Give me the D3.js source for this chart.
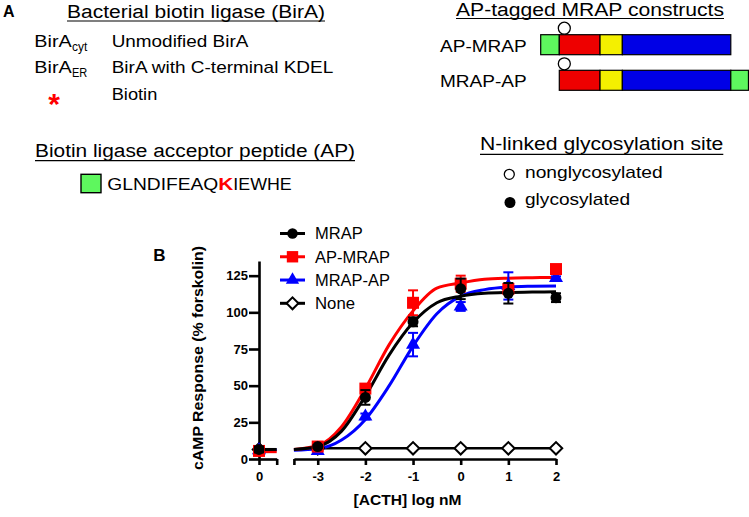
<!DOCTYPE html>
<html>
<head>
<meta charset="utf-8">
<script src="https://cdn.jsdelivr.net/npm/d3@7"></script>
<style>
  body { margin: 0; background: #fff; }
  svg { display: block; font-family: "Liberation Sans", Arial, sans-serif; }
</style>
</head>
<body>
<svg id="fig" width="749" height="517"></svg>
<script>
// ---- dose response data ----
const doses = [-3, -2, -1, 0, 1, 2];
const curveX = [-3.5, -3, -2.5, -2, -1.5, -1, -0.5, 0, 0.5, 1, 1.5, 2];

const mrapMean = [8.5, 42, 93.5, 116, 113, 110];
const mrapErr = [1, 5, 3, 7, 7, 3];
const mrapCurve = [6.5, 8.5, 19, 43, 71, 93, 106.5, 111, 113, 113.6, 113.8, 114];

const apMrapMean = [8.5, 48, 106.5, 119.5, 116, 129.5];
const apMrapErr = [1, 2, 8.5, 5.5, 3, 1];
const apMrapCurve = [6.5, 9, 22, 48, 78, 101, 116.5, 120, 122.5, 123.3, 123.6, 123.8];

const mrapApMean = [5.5, 29, 78, 104, 118, 123.5];
const mrapApErr = [1, 2, 8, 3, 9.3, 1];
const mrapApCurve = [6, 7, 13, 27, 50, 77, 99, 111, 115.5, 117.3, 117.8, 118];

const noneMean = [7.3, 7.3, 7.3, 7.3, 7.3, 7.3];
const noneErr = [0, 0, 0, 0, 0, 0];

// no-ACTH (dose 0) points, drawn on the broken first axis segment
const zeroMean = { 'MRAP': 6.5, 'AP-MRAP': 5.5, 'MRAP-AP': 6, 'None': 6.5 };
const zeroErr = { 'MRAP': 2, 'AP-MRAP': 1, 'MRAP-AP': 1, 'None': 0 };
const zeroFit = { 'MRAP': 6.5, 'AP-MRAP': 5, 'MRAP-AP': 6.2 };

const yTicks = [0, 25, 50, 75, 100, 125];
const xTicks = [-3.5, -3, -2, -1, 0, 1, 2];

// ---- construct diagram data ----
const constructNames = ['AP-MRAP', 'MRAP-AP'];
const apMrapSegments = [['AP', 0, 1], ['N', 1, 3.19], ['TM', 3.19, 4.39], ['C', 4.39, 10.22]];
const mrapApSegments = [['N', 1, 3.19], ['TM', 3.19, 4.39], ['C', 4.39, 10.22], ['AP', 10.22, 11.17]];
const glycoSite = 1.27;

const segmentColors = { AP: '#5ef75e', N: '#ee0000', TM: '#f4f000', C: '#0000e6' };

const series = [
  { name: 'None', mean: noneMean, err: noneErr, color: '#000', symbol: 'diamond' },
  { name: 'MRAP-AP', mean: mrapApMean, err: mrapApErr, curve: mrapApCurve, color: '#0000ff', symbol: 'triangle' },
  { name: 'AP-MRAP', mean: apMrapMean, err: apMrapErr, curve: apMrapCurve, color: '#ff0000', symbol: 'square' },
  { name: 'MRAP', mean: mrapMean, err: mrapErr, curve: mrapCurve, color: '#000', symbol: 'circle' },
];
const legendOrder = ['MRAP', 'AP-MRAP', 'MRAP-AP', 'None'];

const svg = d3.select('#fig');
svg.append('rect').attr('width', 749).attr('height', 517).attr('fill', '#fff');

function label(x, y, text, opts = {}) {
  const t = svg.append('text')
    .attr('x', x)
    .attr('y', y)
    .attr('font-size', opts.size || 17)
    .attr('font-weight', opts.bold ? 'bold' : 'normal')
    .attr('fill', opts.fill || '#000')
    .text(text);
  if (opts.width) {
    t.attr('textLength', opts.width).attr('lengthAdjust', 'spacingAndGlyphs');
  }
  if (opts.anchor) t.attr('text-anchor', opts.anchor);
  return t;
}

function underline(x1, x2, y) {
  svg.append('line')
    .attr('x1', x1).attr('x2', x2)
    .attr('y1', y).attr('y2', y)
    .attr('stroke', '#000')
    .attr('stroke-width', 1.2);
}

// ---- panel A ----
label(3, 17, 'A', { size: 16, bold: true });

label(67, 18.3, 'Bacterial biotin ligase (BirA)', { size: 18, width: 258 });
underline(67, 325, 21);

label(34.3, 46.7, 'BirA', { size: 17, width: 37.4 });
label(72, 50.5, 'cyt', { size: 12, width: 15.3 });
label(111.7, 46.7, 'Unmodified BirA', { size: 17, width: 136.6 });

label(34.3, 73.3, 'BirA', { size: 17, width: 37.4 });
label(72, 77, 'ER', { size: 12, width: 15.3 });
label(111.7, 73.3, 'BirA with C-terminal KDEL', { size: 17, width: 221.6 });

label(54, 114, '*', { size: 30, bold: true, fill: '#ff0000', anchor: 'middle' });
label(111.7, 100, 'Biotin', { size: 17, width: 45.6 });

label(456, 15.5, 'AP-tagged MRAP constructs', { size: 18, width: 268 });
underline(456, 724, 18.5);

const unitX = d3.scaleLinear().domain([0, 1]).range([540.7, 559.3]);
const rowY = d3.scalePoint().domain(constructNames).range([44.7, 80.3]);
const barHeight = 20;
const rowSegments = { 'AP-MRAP': apMrapSegments, 'MRAP-AP': mrapApSegments };

constructNames.forEach((name) => {
  const cy = rowY(name);
  label(440, cy + 7, name, { size: 17, width: 86.7 });

  svg.append('g')
    .selectAll('rect')
    .data(rowSegments[name])
    .join('rect')
    .attr('x', (d) => unitX(d[1]))
    .attr('y', cy - barHeight / 2)
    .attr('width', (d) => unitX(d[2]) - unitX(d[1]))
    .attr('height', barHeight)
    .attr('fill', (d) => segmentColors[d[0]])
    .attr('stroke', '#000')
    .attr('stroke-width', 1.2);

  svg.append('circle')
    .attr('cx', unitX(glycoSite))
    .attr('cy', cy - barHeight / 2 - 6.5)
    .attr('r', 6)
    .attr('fill', '#fff')
    .attr('stroke', '#000')
    .attr('stroke-width', 1.3);
});

label(35, 156.7, 'Biotin ligase acceptor peptide (AP)', { size: 18, width: 320 });
underline(35, 355, 160.7);

svg.append('rect')
  .attr('x', 81).attr('y', 174.3)
  .attr('width', 20).attr('height', 18.4)
  .attr('fill', segmentColors.AP)
  .attr('stroke', '#000')
  .attr('stroke-width', 1.4);
label(107.3, 190, 'GLNDIFEAQ', { size: 17, width: 111 });
label(218.3, 190, 'K', { size: 17, bold: true, fill: '#ff0000', width: 15 });
label(233.3, 190, 'IEWHE', { size: 17, width: 58.4 });

label(480, 150, 'N-linked glycosylation site', { size: 17.5, width: 243.3 });
underline(480, 723.3, 154.3);

svg.append('circle')
  .attr('cx', 509.3).attr('cy', 174.3).attr('r', 5)
  .attr('fill', '#fff').attr('stroke', '#000').attr('stroke-width', 1.3);
label(525, 178.3, 'nonglycosylated', { size: 17, width: 137.7 });

svg.append('circle')
  .attr('cx', 510).attr('cy', 202.5).attr('r', 5.5)
  .attr('fill', '#000');
label(525, 205, 'glycosylated', { size: 17, width: 105 });

// ---- panel B ----
label(153.3, 260.7, 'B', { size: 17, bold: true });

const y = d3.scaleLinear().domain([0, 135]).range([459, 261]);
const x = d3.scaleLinear().domain([-3.5, 2]).range([293.9, 556]);
const x0 = d3.scaleLinear().domain([0, 1]).range([259, 276.7]);

function styleAxis(g) {
  g.attr('font-family', null).attr('font-size', null);
  g.selectAll('path, line').attr('stroke', '#000').attr('stroke-width', 2.6);
  g.selectAll('text')
    .attr('font-size', 13)
    .attr('font-weight', 'bold')
    .attr('fill', '#000');
}

svg.append('g')
  .attr('transform', `translate(${x0(0)},0)`)
  .call(d3.axisLeft(y).tickValues(yTicks).tickSize(10).tickSizeOuter(0).tickPadding(1))
  .call(styleAxis);

svg.append('g')
  .attr('transform', `translate(0,${y(0)})`)
  .call(d3.axisBottom(x0).tickValues([0, 1]).tickFormat((d) => (d === 0 ? '0' : ''))
    .tickSize(6).tickSizeOuter(0).tickPadding(7))
  .call(styleAxis);

svg.append('g')
  .attr('transform', `translate(0,${y(0)})`)
  .call(d3.axisBottom(x).tickValues(xTicks).tickFormat((d) => (d === -3.5 ? '' : String(d)))
    .tickSize(6).tickSizeOuter(0).tickPadding(7))
  .call(styleAxis);

label(407.5, 505, '[ACTH] log nM', { size: 15, bold: true, anchor: 'middle', width: 108 });

svg.append('text')
  .attr('transform', `translate(203,358) rotate(-90)`)
  .attr('text-anchor', 'middle')
  .attr('font-size', 15)
  .attr('font-weight', 'bold')
  .attr('textLength', 224)
  .attr('lengthAdjust', 'spacingAndGlyphs')
  .text('cAMP Response (% forskolin)');

function symbolPath(kind, scale = 1) {
  if (kind === 'circle') return d3.symbol(d3.symbolCircle, 95 * scale)();
  if (kind === 'square') return d3.symbol(d3.symbolSquare, 144 * scale)();
  if (kind === 'triangle') return d3.symbol(d3.symbolTriangle, 85 * scale)();
  return d3.symbol(d3.symbolSquare, 78 * scale)();
}

function drawMarker(g, kind, color, cx, cy, scale = 1) {
  const p = g.append('path')
    .attr('d', symbolPath(kind, scale))
    .attr('transform', `translate(${cx},${cy})${kind === 'diamond' ? ' rotate(45)' : ''}`);
  if (kind === 'diamond') {
    p.attr('fill', '#fff').attr('stroke', '#000').attr('stroke-width', 2);
  } else {
    p.attr('fill', color);
  }
}

function drawErrorBar(g, color, cx, m, e) {
  if (!e) return;
  const top = y(m + e);
  const bottom = y(m - e);
  g.append('line')
    .attr('x1', cx).attr('x2', cx).attr('y1', top).attr('y2', bottom)
    .attr('stroke', color).attr('stroke-width', 2);
  [top, bottom].forEach((yy) => {
    g.append('line')
      .attr('x1', cx - 5).attr('x2', cx + 5).attr('y1', yy).attr('y2', yy)
      .attr('stroke', color).attr('stroke-width', 2);
  });
}

const curveLine = d3.line()
  .x((d) => x(d[0]))
  .y((d) => y(d[1]))
  .curve(d3.curveMonotoneX);

const plot = svg.append('g');

// fitted curves and the None connecting line
series.forEach((s) => {
  if (s.curve) {
    plot.append('path')
      .attr('d', curveLine(curveX.map((cx, i) => [cx, s.curve[i]])))
      .attr('fill', 'none')
      .attr('stroke', s.color)
      .attr('stroke-width', 3);
    plot.append('line')
      .attr('x1', x0(0)).attr('x2', x0(1))
      .attr('y1', y(zeroFit[s.name])).attr('y2', y(zeroFit[s.name]))
      .attr('stroke', s.color)
      .attr('stroke-width', 3);
  } else {
    plot.append('path')
      .attr('d', d3.line().x((d) => x(d[0])).y((d) => y(d[1]))(doses.map((d, i) => [d, s.mean[i]])))
      .attr('fill', 'none')
      .attr('stroke', s.color)
      .attr('stroke-width', 2.5);
  }
});

// error bars and markers, drawn series by series
series.forEach((s) => {
  const g = plot.append('g');
  drawErrorBar(g, s.color, x0(0), zeroMean[s.name], zeroErr[s.name]);
  doses.forEach((d, i) => drawErrorBar(g, s.color, x(d), s.mean[i], s.err[i]));
  drawMarker(g, s.symbol, s.color, x0(0), y(zeroMean[s.name]));
  doses.forEach((d, i) => drawMarker(g, s.symbol, s.color, x(d), y(s.mean[i])));
});

// legend
const legendY = d3.scalePoint().domain(legendOrder).range([233.5, 303.3]);
const legendWidths = { 'MRAP': 47.7, 'AP-MRAP': 75, 'MRAP-AP': 75, 'None': 40 };
legendOrder.forEach((name) => {
  const s = series.find((d) => d.name === name);
  const ly = legendY(name);
  const g = svg.append('g');
  g.append('line')
    .attr('x1', 280).attr('x2', 305).attr('y1', ly).attr('y2', ly)
    .attr('stroke', s.color).attr('stroke-width', 3);
  drawMarker(g, s.symbol, s.color, 292.5, ly, 0.9);
  g.append('text')
    .attr('x', 315).attr('y', ly)
    .attr('dy', '0.36em')
    .attr('font-size', 16.5)
    .attr('textLength', legendWidths[name])
    .attr('lengthAdjust', 'spacingAndGlyphs')
    .text(name);
});
</script>
</body>
</html>
